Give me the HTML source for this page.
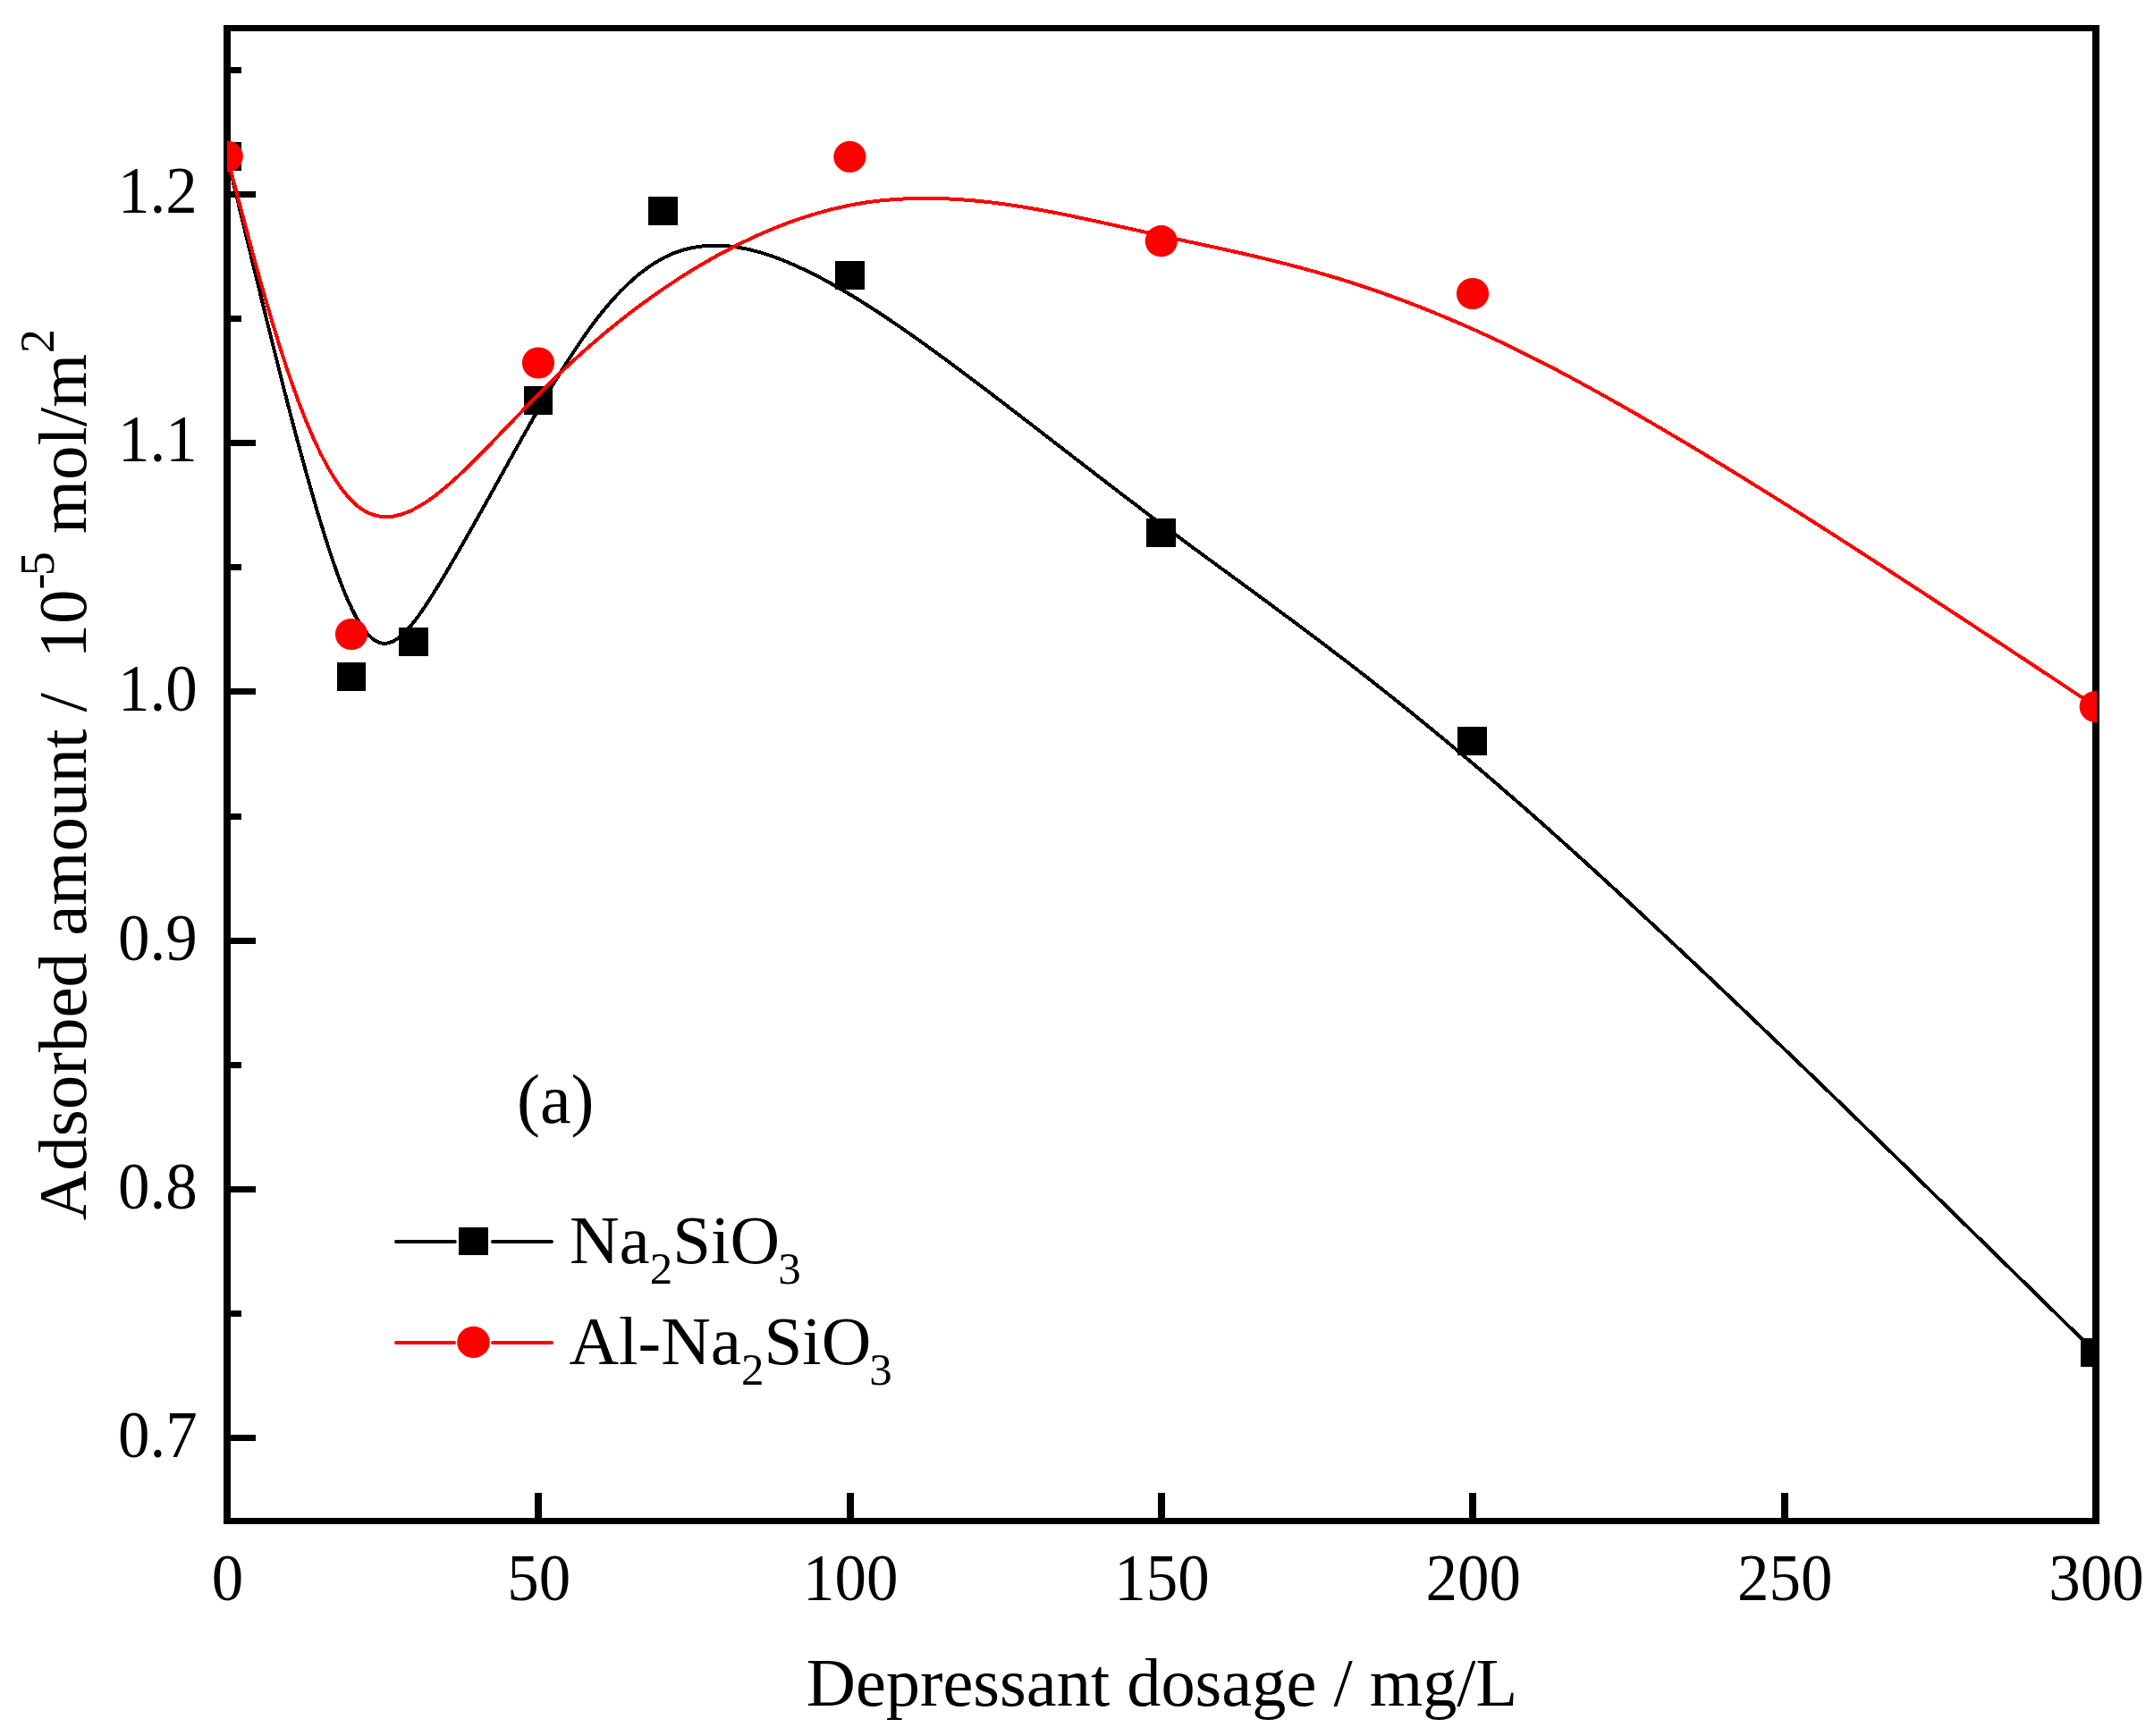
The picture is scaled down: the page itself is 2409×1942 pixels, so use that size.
<!DOCTYPE html>
<html lang="en"><head><meta charset="utf-8"><title>Adsorbed amount vs depressant dosage</title>
<style>html,body{margin:0;padding:0;background:#fff}body{width:2409px;height:1942px;overflow:hidden}svg{display:block}text{font-family:"Liberation Serif",serif;fill:#000}</style></head><body>
<svg width="2409" height="1942" viewBox="0 0 2409 1942" shape-rendering="crispEdges">
<rect x="0" y="0" width="2409" height="1942" fill="#fff"/>
<g fill="#000">
<rect x="250" y="28" width="2098" height="7"/>
<rect x="250" y="1698" width="2098" height="7"/>
<rect x="250" y="28" width="8" height="1677"/>
<rect x="2340" y="28" width="8" height="1677"/>
<rect x="250" y="214.0" width="36" height="7"/>
<rect x="250" y="492.0" width="36" height="7"/>
<rect x="250" y="770.0" width="36" height="7"/>
<rect x="250" y="1049.0" width="36" height="7"/>
<rect x="250" y="1327.0" width="36" height="7"/>
<rect x="250" y="1605.0" width="36" height="7"/>
<rect x="250" y="75.0" width="20" height="7"/>
<rect x="250" y="353.0" width="20" height="7"/>
<rect x="250" y="631.0" width="20" height="7"/>
<rect x="250" y="910.0" width="20" height="7"/>
<rect x="250" y="1188.0" width="20" height="7"/>
<rect x="250" y="1466.0" width="20" height="7"/>
<rect x="598.0" y="1670" width="8" height="35"/>
<rect x="947.0" y="1670" width="8" height="35"/>
<rect x="1295.0" y="1670" width="8" height="35"/>
<rect x="1643.0" y="1670" width="8" height="35"/>
<rect x="1992.0" y="1670" width="8" height="35"/>
</g>
<defs><clipPath id="plot"><rect x="254" y="32" width="2091" height="1670"/></clipPath></defs>
<g clip-path="url(#plot)">
<path d="M254.00 175.00C300.43 369.00 346.87 563.00 381.70 653.50C416.53 744.00 439.77 731.00 474.60 679.50C509.43 628.00 555.87 538.00 602.32 457.67C648.77 377.33 695.23 306.67 753.30 283.33C811.37 260.00 881.03 284.00 973.92 343.92C1066.80 403.83 1182.90 499.67 1299.00 586.50C1415.10 673.33 1531.20 751.17 1705.37 904.13C1879.53 1057.10 2111.77 1285.20 2344.00 1513.30" fill="none" stroke="#000" stroke-width="4" stroke-linejoin="round"/>
<rect x="237" y="159" width="33" height="32" fill="#000"/>
<rect x="377" y="741" width="32" height="32" fill="#000"/>
<rect x="446" y="702" width="33" height="32" fill="#000"/>
<rect x="586" y="432" width="32" height="32" fill="#000"/>
<rect x="725" y="220" width="33" height="32" fill="#000"/>
<rect x="934" y="292" width="33" height="32" fill="#000"/>
<rect x="1282" y="580" width="33" height="32" fill="#000"/>
<rect x="1630" y="813" width="33" height="32" fill="#000"/>
<rect x="2327" y="1497" width="33" height="32" fill="#000"/>
<path d="M254.00 175.00C300.43 353.17 346.87 531.33 404.92 569.83C462.97 608.33 532.63 507.17 625.53 418.15C718.43 329.13 834.57 252.27 950.68 229.55C1066.80 206.83 1182.90 238.27 1299.00 263.78C1415.10 289.30 1531.20 308.90 1705.37 395.70C1879.53 482.50 2111.77 636.50 2344.00 790.50" fill="none" stroke="#f00" stroke-width="4" stroke-linejoin="round"/>
<ellipse cx="253.7" cy="175.0" rx="18.1" ry="17.6" fill="#f00" shape-rendering="geometricPrecision"/>
<ellipse cx="393.0" cy="709.5" rx="18.1" ry="17.6" fill="#f00" shape-rendering="geometricPrecision"/>
<ellipse cx="602.0" cy="406.0" rx="18.1" ry="17.6" fill="#f00" shape-rendering="geometricPrecision"/>
<ellipse cx="950.4" cy="175.4" rx="18.1" ry="17.6" fill="#f00" shape-rendering="geometricPrecision"/>
<ellipse cx="1298.7" cy="269.7" rx="18.1" ry="17.6" fill="#f00" shape-rendering="geometricPrecision"/>
<ellipse cx="1647.0" cy="328.5" rx="18.1" ry="17.6" fill="#f00" shape-rendering="geometricPrecision"/>
<ellipse cx="2343.7" cy="790.5" rx="18.1" ry="17.6" fill="#f00" shape-rendering="geometricPrecision"/>
</g>
<g font-size="72" text-anchor="end">
<text transform="translate(220.7 237.5) scale(0.985 1.034)">1.2</text>
<text transform="translate(220.7 515.7) scale(0.985 1.034)">1.1</text>
<text transform="translate(220.7 794.9) scale(0.985 1.034)">1.0</text>
<text transform="translate(220.7 1073.6) scale(0.985 1.034)">0.9</text>
<text transform="translate(220.7 1352.0) scale(0.985 1.034)">0.8</text>
<text transform="translate(220.7 1630.0) scale(0.985 1.034)">0.7</text>
</g>
<g font-size="72" text-anchor="middle">
<text transform="translate(254.5 1789.7) scale(0.985 1.034)">0</text>
<text transform="translate(602.8 1789.7) scale(0.985 1.034)">50</text>
<text transform="translate(951.2 1789.7) scale(0.985 1.034)">100</text>
<text transform="translate(1299.5 1789.7) scale(0.985 1.034)">150</text>
<text transform="translate(1647.8 1789.7) scale(0.985 1.034)">200</text>
<text transform="translate(1996.2 1789.7) scale(0.985 1.034)">250</text>
<text transform="translate(2344.5 1789.7) scale(0.985 1.034)">300</text>
</g>
<text x="1299.5" y="1907.5" font-size="76.4" text-anchor="middle">Depressant dosage / mg/L</text>
<text transform="translate(96.2 1365.3) rotate(-90)" font-size="77" xml:space="preserve">Adsorbed amount /  10<tspan font-size="54" dy="-36">-</tspan><tspan font-size="54" dx="-2.6">5</tspan><tspan dy="36" dx="1"> mol/m</tspan><tspan font-size="54" dy="-36" dx="0.8">2</tspan></text>
<text x="578" y="1255.6" font-size="78">(a)</text>
<g>
<g stroke-width="4" stroke-linecap="round" shape-rendering="geometricPrecision"><path d="M443 1389H508.8M551 1389H617" stroke="#000"/><path d="M443 1502H508M551 1502H617" stroke="#f00"/></g>
<rect x="513" y="1373" width="33" height="31" fill="#000"/>
<ellipse cx="529.5" cy="1501.4" rx="18.3" ry="17.6" fill="#f00" shape-rendering="geometricPrecision"/>
<text x="637" y="1413.3" font-size="77">Na<tspan font-size="51" dy="23">2</tspan><tspan dy="-23">SiO</tspan><tspan font-size="51" dy="23" dx="-2">3</tspan></text>
<text x="636.5" y="1526.2" font-size="77">Al-Na<tspan font-size="51" dy="23">2</tspan><tspan dy="-23">SiO</tspan><tspan font-size="51" dy="23" dx="-2">3</tspan></text>
</g>
</svg></body></html>
